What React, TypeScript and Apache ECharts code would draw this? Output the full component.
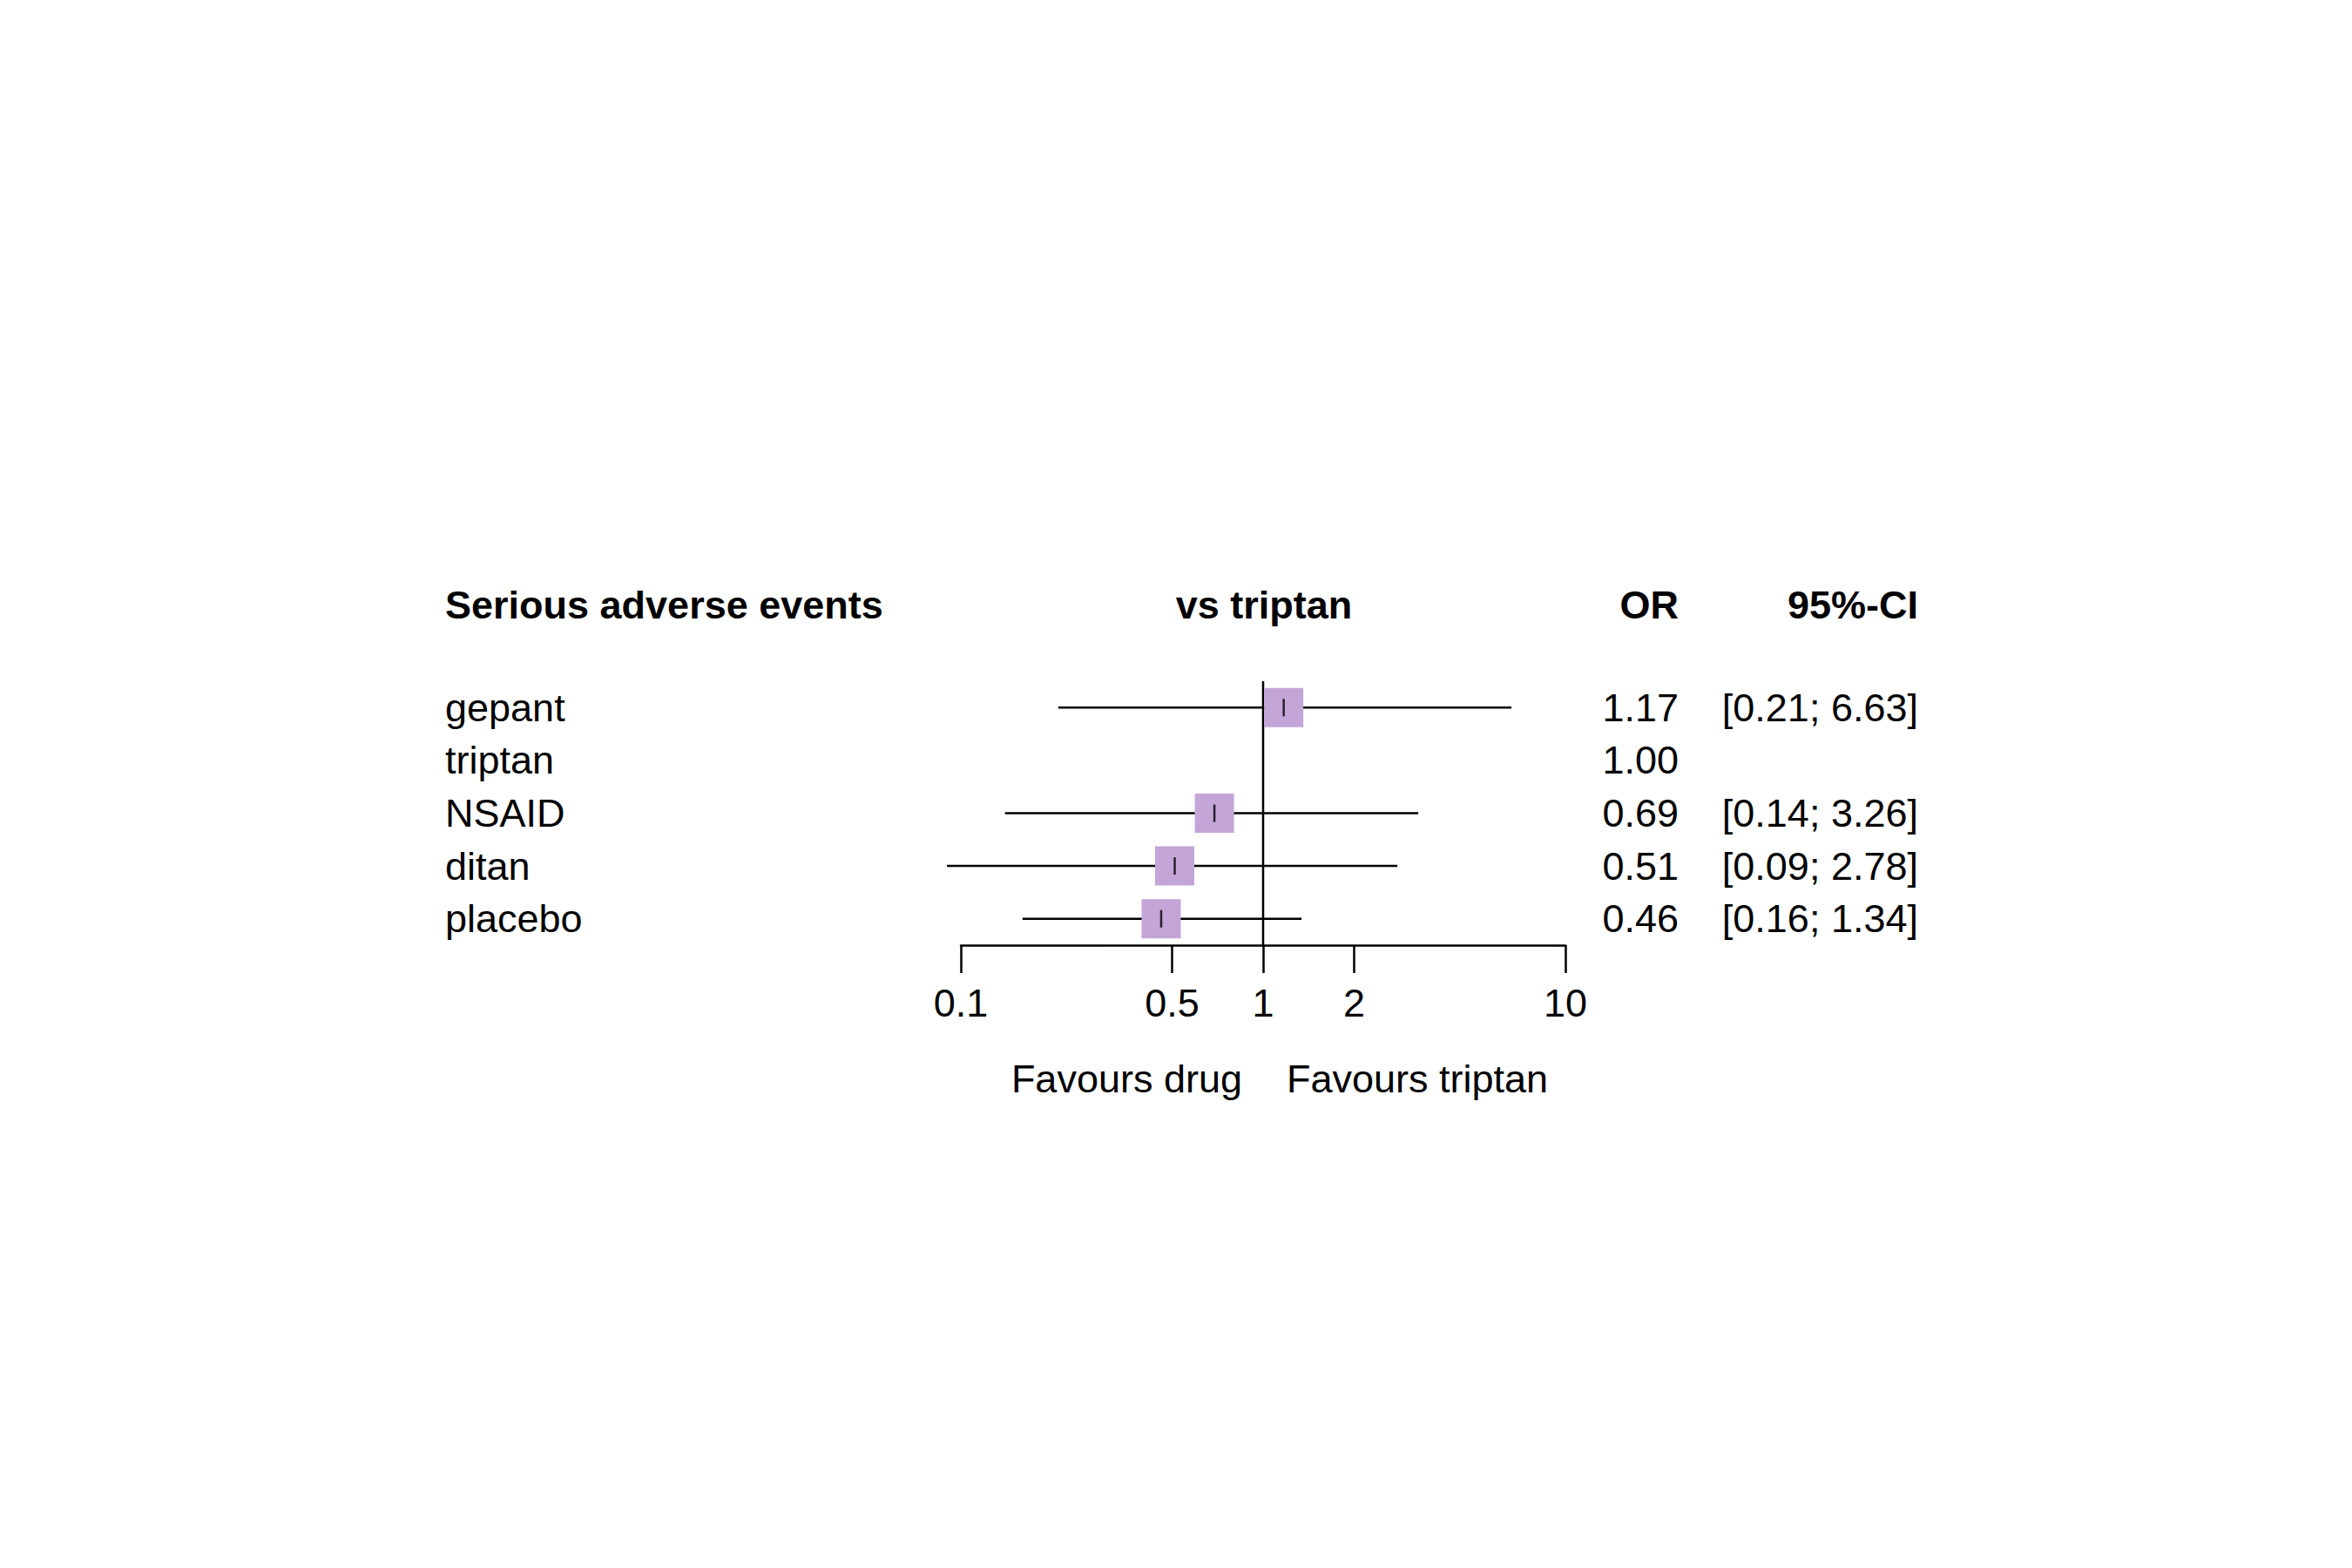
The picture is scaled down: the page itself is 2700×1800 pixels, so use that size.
import { useRef, useEffect } from 'react'
import * as echarts from 'echarts';

const drugs = ['gepant', 'triptan', 'NSAID', 'ditan', 'placebo']
const orValues = [1.17, 1.00, 0.69, 0.51, 0.46]
const lowerCI = [0.21, null, 0.14, 0.09, 0.16]
const upperCI = [6.63, null, 3.26, 2.78, 1.34]
const orLabels = ['1.17', '1.00', '0.69', '0.51', '0.46']
const ciLabels = ['[0.21; 6.63]', '', '[0.14; 3.26]', '[0.09; 2.78]', '[0.16; 1.34]']
const xTicks = [0.1, 0.5, 1, 2, 10]
const rowY = [4.5, 3.5, 2.5, 1.5, 0.5]

const FONT = 'Liberation Sans, Arial, sans-serif'
const FS = 45

export default function App() {
  const cDom = useRef(null)

  useEffect(() => {
    document.body.style.margin = '0'
    const chart = echarts.init(cDom.current, null, { renderer: 'svg' })
    const txt = (x: number, y: number, text: string, align = 'left', bold = false) => ({
      type: 'text', x, y,
      style: { text, x: 0, y: 0, align, verticalAlign: 'middle', font: `${bold ? 'bold ' : ''}${FS}px ${FONT}`, fill: '#000' },
    })
    // pixel rows for text (match grid)
    const rowPx = rowY.map((v) => 1085 - v * 60.6)
    const graphics: any[] = [
      txt(511, 694, 'Serious adverse events', 'left', true),
      txt(1451, 694, 'vs triptan', 'center', true),
      txt(1927, 694, 'OR', 'right', true),
      txt(2202, 694, '95%-CI', 'right', true),
      txt(1426, 1238, 'Favours drug', 'right'),
      txt(1477, 1238, 'Favours triptan', 'left'),
    ]
    drugs.forEach((d, i) => {
      graphics.push(txt(511, rowPx[i], d))
      graphics.push(txt(1927, rowPx[i], orLabels[i], 'right'))
      if (ciLabels[i]) graphics.push(txt(2202, rowPx[i], ciLabels[i], 'right'))
    })

    chart.setOption({
      animation: false,
      backgroundColor: '#fff',
      grid: { left: 1103, right: 903, top: 782, height: 303 },
      xAxis: {
        type: 'log', logBase: 10, min: 0.1, max: 10,
        axisLine: { show: true, lineStyle: { color: '#000', width: 2.5 } },
        axisTick: { show: true, customValues: xTicks, length: 32, lineStyle: { color: '#000', width: 2.5 } },
        axisLabel: { show: true, customValues: xTicks, margin: 44, fontSize: FS, fontFamily: FONT, color: '#000', formatter: (v: number) => String(v) },
        splitLine: { show: false },
      },
      yAxis: { type: 'value', min: 0, max: 5, show: false },
      graphic: graphics,
      series: [
        {
          type: 'custom', clip: false,
          data: drugs.map((_, i) => [lowerCI[i], upperCI[i], rowY[i]]).filter((d) => d[0] != null),
          renderItem: (params: any, api: any) => {
            const a = api.coord([api.value(0), api.value(2)])
            const b = api.coord([api.value(1), api.value(2)])
            return { type: 'line', shape: { x1: a[0], y1: a[1], x2: b[0], y2: b[1] }, style: { stroke: '#000', lineWidth: 2.5 } }
          },
        },
        {
          type: 'custom', clip: false,
          data: [[1, 0, 5]],
          renderItem: (params: any, api: any) => {
            const a = api.coord([1, 0])
            const b = api.coord([1, 5])
            return { type: 'line', shape: { x1: a[0], y1: a[1], x2: b[0], y2: b[1] }, style: { stroke: '#000', lineWidth: 2.5 } }
          },
        },
        {
          type: 'scatter', symbol: 'rect', symbolSize: 45,
          itemStyle: { color: '#C3A5D8', opacity: 1 },
          data: drugs.map((_, i) => [orValues[i], rowY[i]]).filter((_, i) => lowerCI[i] != null),
          z: 3,
        },
        {
          type: 'scatter', symbol: 'rect', symbolSize: [2.5, 20],
          itemStyle: { color: '#000' },
          data: drugs.map((_, i) => [orValues[i], rowY[i]]).filter((_, i) => lowerCI[i] != null),
          z: 4,
        },
      ],
    })
    return () => chart.dispose()
  }, [])

  return <div ref={cDom} style={{ width: 2700, height: 1800 }}></div>
}
